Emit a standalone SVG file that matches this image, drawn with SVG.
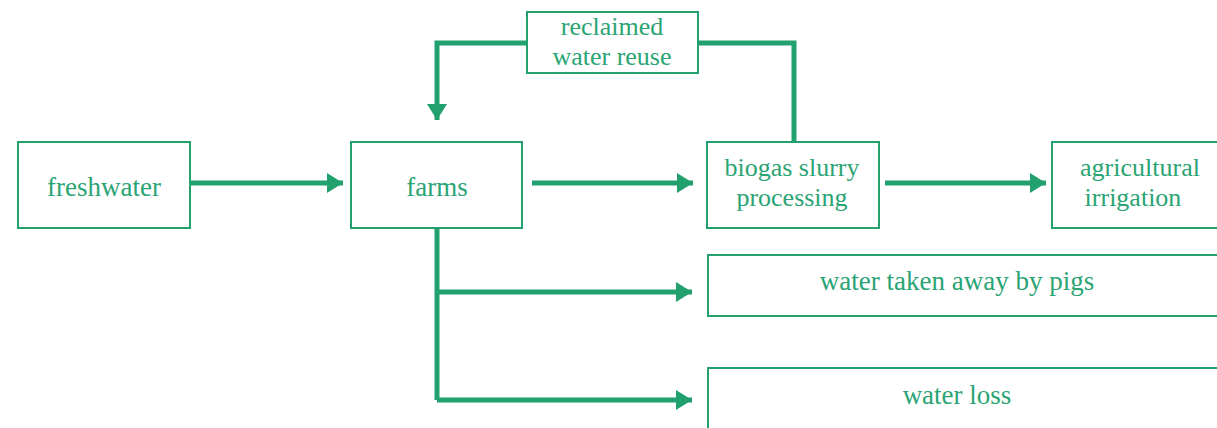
<svg xmlns="http://www.w3.org/2000/svg" width="1217" height="428" viewBox="0 0 1217 428">
<defs>
<style>
.box{fill:#fff;stroke:#22a06e;stroke-width:2}
.t{font-family:"Liberation Serif",serif;font-size:27px;fill:#2aa474;text-anchor:middle}
.m{font-size:26px}
.c{fill:none;stroke:#22a06e;stroke-width:5}
</style>
<marker id="ah" markerUnits="userSpaceOnUse" markerWidth="18" markerHeight="22" refX="16" refY="10" orient="auto">
<path d="M0,0 L16,10 L0,20 Z" fill="#22a06e"/>
</marker>
</defs>
<rect width="1217" height="428" fill="#fff"/>
<g id="connectors">
<path class="c" d="M182,183 H343" marker-end="url(#ah)"/>
<path class="c" d="M532,183 H693" marker-end="url(#ah)"/>
<path class="c" d="M885,183 H1046" marker-end="url(#ah)"/>
<path class="c" d="M794,141 V43 H698"/>
<path class="c" d="M527,43 H437 V120" marker-end="url(#ah)"/>
<path class="c" d="M437,228 V400"/>
<path class="c" d="M437,292 H692" marker-end="url(#ah)"/>
<path class="c" d="M437,400 H692" marker-end="url(#ah)"/>
</g>
<g id="freshwater"><rect class="box" x="18" y="142" width="172" height="86"/><text class="t" x="104" y="196">freshwater</text></g>
<g id="farms"><rect class="box" x="351" y="142" width="171" height="86"/><text class="t" x="437" y="196">farms</text></g>
<g id="reclaimed"><rect class="box" x="527" y="12" width="171" height="61"/><text class="t m" x="612" y="35">reclaimed</text><text class="t m" x="612" y="65">water reuse</text></g>
<g id="biogas"><rect class="box" x="707" y="142" width="172" height="86"/><text class="t m" x="792" y="176">biogas slurry</text><text class="t m" x="792" y="206">processing</text></g>
<g id="irrigation"><rect class="box" x="1052" y="142" width="170" height="86"/><text class="t m" x="1140" y="176">agricultural</text><text class="t m" x="1133" y="206">irrigation</text></g>
<g id="pigs"><rect class="box" x="708" y="255" width="514" height="61"/><text class="t" x="957" y="290">water taken away by pigs</text></g>
<g id="loss"><rect class="box" x="708" y="368" width="514" height="70"/><text class="t" x="957" y="404">water loss</text></g>
</svg>
